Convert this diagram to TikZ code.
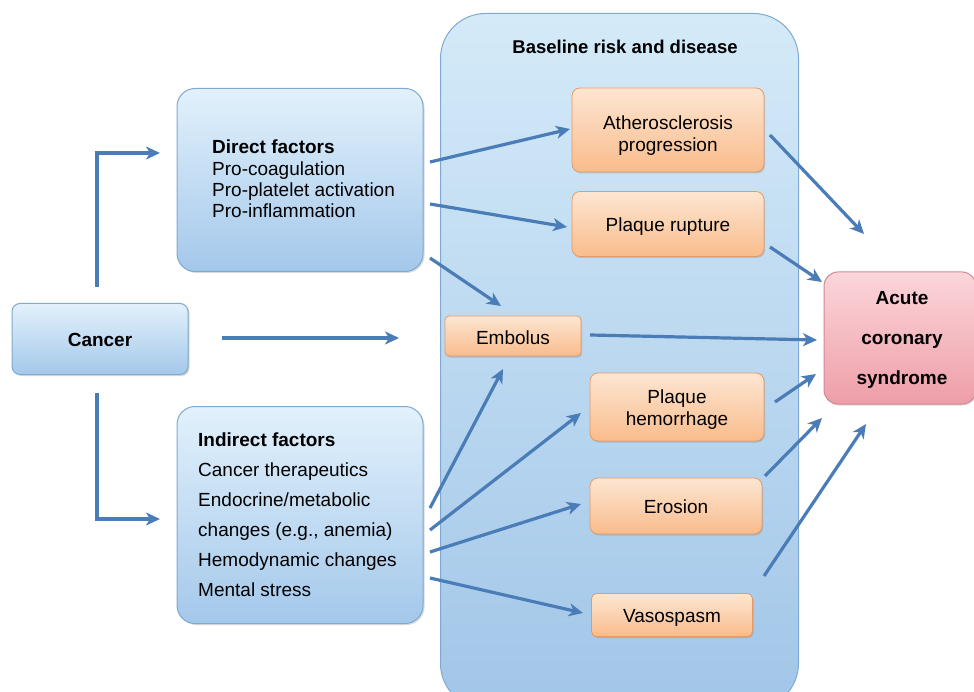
\documentclass[tikz,border=0pt]{standalone}
\usepackage{fontspec}
\setmainfont{Liberation Sans}
\usetikzlibrary{arrows.meta,shadows}
\definecolor{arr}{HTML}{4A7DB8}
\definecolor{bluetop}{HTML}{E2F1FC}
\definecolor{bluebot}{HTML}{A4C8EA}
\definecolor{blueline}{HTML}{7FA9D2}
\definecolor{bigtop}{HTML}{D4EAF8}
\definecolor{bigbot}{HTML}{A2C6E8}
\definecolor{ortop}{HTML}{FDE6D2}
\definecolor{orbot}{HTML}{F9BC8C}
\definecolor{orline}{HTML}{E89A64}
\definecolor{pktop}{HTML}{FBD6DA}
\definecolor{pkbot}{HTML}{EE9EA8}
\definecolor{pkline}{HTML}{D08A94}
\begin{document}
\begin{tikzpicture}[x=1pt,y=-1pt,
  txt/.style={font=\fontsize{19}{21.3}\selectfont},
  bluebox/.style={draw=blueline,line width=1pt,rounded corners=18pt,top color=bluetop,bottom color=bluebot,drop shadow={shadow xshift=1.5pt,shadow yshift=-1.5pt,opacity=0.3}},
  orbox/.style={draw=orline,line width=0.8pt,rounded corners=8pt,top color=ortop,bottom color=orbot,drop shadow={shadow xshift=1pt,shadow yshift=-1.5pt,opacity=0.3},inner sep=0pt},
  ortxt/.style={align=center,font=\fontsize{19}{22}\selectfont,yshift=-3pt,inner sep=0pt},
  conn/.style={draw=arr,line width=3.2pt,-{Stealth[length=14pt,width=13pt,inset=4pt]}},
]
\useasboundingbox (0,0) rectangle (974,692);
\begin{scope}
\clip (0,0) rectangle (974,692);
% big box
\node[draw=blueline,line width=1pt,rounded corners=45pt,top color=bigtop,bottom color=bigbot,minimum width=358pt,minimum height=695pt,anchor=north west,inner sep=0pt] (base) at (440,13) {};
\end{scope}
\node[font=\fontsize{18.5}{21}\selectfont\bfseries] (basetitle) at (625,47) {Baseline risk and disease};

% cancer
\node[bluebox,rounded corners=8pt,minimum width=176pt,minimum height=71pt,inner sep=0pt] (cancer) at (100,339) {};
\node[font=\fontsize{19}{21}\selectfont\bfseries] (cancertxt) at (100,340) {Cancer};

% direct
\node[bluebox,minimum width=246pt,minimum height=183pt,inner sep=0pt] (direct) at (300,180) {};
\node[txt,anchor=north west,align=left,inner sep=0pt] (directtxt) at (212,140) {\textbf{Direct factors}\\Pro-coagulation\\Pro-platelet activation\\Pro-inflammation};

% indirect
\node[bluebox,minimum width=246pt,minimum height=217pt,inner sep=0pt] (indirect) at (300,515) {};
\node[txt,anchor=north west,align=left,inner sep=0pt,font=\fontsize{19}{30}\selectfont] (indirecttxt) at (198,433) {\textbf{Indirect factors}\\Cancer therapeutics\\Endocrine/metabolic\\changes (e.g., anemia)\\Hemodynamic changes\\Mental stress};

% orange boxes
\node[orbox,minimum width=192pt,minimum height=84pt,label={[ortxt,yshift=-3pt]center:Atherosclerosis\\progression}] (athero) at (668,130) {};
\node[orbox,minimum width=192pt,minimum height=65pt,label={[ortxt]center:Plaque rupture}] (rupture) at (668,224) {};
\node[orbox,minimum width=136pt,minimum height=40pt,rounded corners=4pt,label={[ortxt,yshift=1pt]center:Embolus}] (embolus) at (513,336) {};
\node[orbox,minimum width=174pt,minimum height=68pt,label={[ortxt]center:Plaque\\hemorrhage}] (hemorrhage) at (677,407) {};
\node[orbox,minimum width=172pt,minimum height=56pt,label={[ortxt,yshift=2pt]center:Erosion}] (erosion) at (676,506) {};
\node[orbox,minimum width=161pt,minimum height=43pt,rounded corners=5pt,label={[ortxt]center:Vasospasm}] (vasospasm) at (672,615) {};

% ACS
\node[draw=pkline,line width=1pt,rounded corners=14pt,top color=pktop,bottom color=pkbot,minimum width=152pt,minimum height=132pt,inner sep=0pt,drop shadow={shadow xshift=1pt,shadow yshift=-1.5pt,opacity=0.3}] (acs) at (900,338) {};
\node[font=\fontsize{19}{40}\selectfont\bfseries,align=center] (acstxt) at (902,340) {Acute\\coronary\\syndrome};

% coordinates
\coordinate (cu0) at (97,287);
\coordinate (cu1) at (160,153);
\coordinate (cd0) at (97,393);
\coordinate (cd1) at (160,519);
\coordinate (cm0) at (222,338);
\coordinate (cm1) at (399,338);
\coordinate (d1) at (430,162);
\coordinate (d2) at (430,204);
\coordinate (d3) at (430,258);
\coordinate (i1) at (430,508);
\coordinate (i2) at (430,530);
\coordinate (i3) at (430,552);
\coordinate (i4) at (430,578);
\coordinate (ath) at (570,129);
\coordinate (rup) at (567,227);
\coordinate (embt) at (501,306);
\coordinate (embb) at (503,369);
\coordinate (hem) at (581,413);
\coordinate (ero) at (581,504);
\coordinate (vas) at (583,613);
\coordinate (a1) at (770,135);
\coordinate (a2) at (770,247);
\coordinate (a3) at (590,335);
\coordinate (a4) at (775,402);
\coordinate (a5) at (765,476);
\coordinate (a6) at (764,576);
\coordinate (e1) at (864,234);
\coordinate (e2) at (822,282);
\coordinate (e3) at (817,340);
\coordinate (e4) at (816,374);
\coordinate (e5) at (822,418);
\coordinate (e6) at (866,424);

\draw[conn] (cu0) |- (cu1);
\draw[conn] (cd0) |- (cd1);
\draw[conn] (cm0) -- (cm1);
\draw[conn] (d1) -- (ath);
\draw[conn] (d2) -- (rup);
\draw[conn] (d3) -- (embt);
\draw[conn] (i1) -- (embb);
\draw[conn] (i2) -- (hem);
\draw[conn] (i3) -- (ero);
\draw[conn] (i4) -- (vas);
\draw[conn] (a1) -- (e1);
\draw[conn] (a2) -- (e2);
\draw[conn] (a3) -- (e3);
\draw[conn] (a4) -- (e4);
\draw[conn] (a5) -- (e5);
\draw[conn] (a6) -- (e6);
\end{tikzpicture}
\end{document}
